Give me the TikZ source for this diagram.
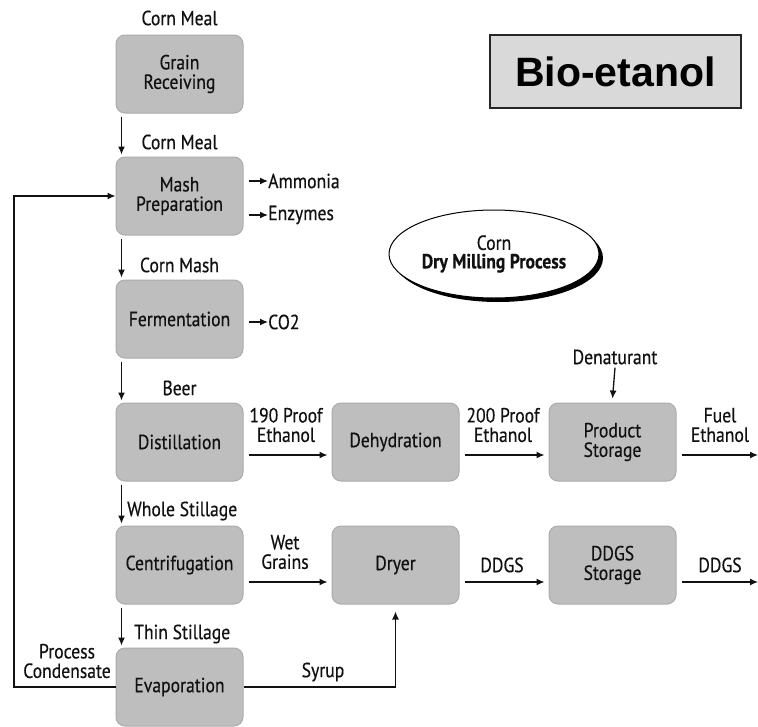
\documentclass[tikz,border=0pt]{standalone}
\usepackage{fontspec}
\setmainfont{PT Sans}[FakeStretch=0.86,FakeBold=0.4]
\newfontfamily\titlefont{Liberation Sans}
\usetikzlibrary{arrows.meta,shapes.geometric,shadows}
\definecolor{boxfill}{HTML}{BEBEBE}
\definecolor{boxline}{HTML}{ABABAB}
\definecolor{ink}{HTML}{111111}
\tikzset{
  stepbox/.style={draw=boxline, line width=1pt, fill=boxfill, rounded corners=9pt,
    minimum width=127pt, minimum height=78pt, align=center, inner sep=0pt,
    font=\fontsize{20.5}{19.5}\selectfont, text=ink},
  lbl/.style={font=\fontsize{20.5}{19.5}\selectfont, text=ink, inner sep=0pt, align=center},
  arr/.style={draw=ink, line width=1.3pt, -{Latex[length=8pt,width=7pt]}},
}
\begin{document}
\begin{tikzpicture}[x=1pt,y=-1pt]
\useasboundingbox[fill=white] (0,0) rectangle (758,726);

% title
\node[draw=black!85, line width=1.8pt, fill=black!15, minimum width=251pt, minimum height=73pt,
  font=\titlefont\bfseries\fontsize{41}{45}\selectfont, inner sep=0pt] (title) at (615.5,71.5) {Bio-etanol};

% ellipse
\node[ellipse, draw=black, line width=1pt, fill=white, minimum width=210pt, minimum height=88pt,
  drop shadow={shadow xshift=4pt, shadow yshift=-4pt, fill=black, opacity=1},
  lbl, inner sep=0pt] (ell) at (494,254) {Corn\\[-1pt] \bfseries Dry Milling Process};

% main column
\node[stepbox] (gr) at (179.5,74) {Grain\\Receiving};
\node[stepbox] (mp) at (179.5,196) {Mash\\Preparation};
\node[stepbox] (fe) at (179.5,319) {Fermentation};
\node[stepbox] (di) at (179.5,442) {Distillation};
\node[stepbox] (ce) at (179.5,565) {Centrifugation};
\node[stepbox] (ev) at (179.5,687) {Evaporation};
% second & third columns
\node[stepbox] (dh) at (395.5,442) {Dehydration};
\node[stepbox] (dr) at (395.5,565) {Dryer};
\node[stepbox] (ps) at (612.5,442) {Product\\Storage};
\node[stepbox] (ds) at (612.5,565) {DDGS\\Storage};

% labels main column
\node[lbl] (cm1) at (179.5,18) {Corn Meal};
\node[lbl] (cm2) at (179.5,142) {Corn Meal};
\node[lbl] (cmash) at (179.5,265) {Corn Mash};
\node[lbl] (beer) at (179.5,388) {Beer};
\node[lbl, anchor=west] (whole) at (127,511) {Whole Stillage};
\node[lbl, anchor=west] (thin) at (134,634) {Thin Stillage};

% vertical arrows
\draw[arr] ([xshift=6pt,yshift=-3pt]gr.south west) -- ([xshift=6pt,yshift=2pt]mp.north west);
\draw[arr] ([xshift=6pt,yshift=-3pt]mp.south west) -- ([xshift=6pt,yshift=2pt]fe.north west);
\draw[arr] ([xshift=6pt,yshift=-3pt]fe.south west) -- ([xshift=6pt,yshift=2pt]di.north west);
\draw[arr] ([xshift=6pt,yshift=-3pt]di.south west) -- ([xshift=6pt,yshift=2pt]ce.north west);
\draw[arr] ([xshift=6pt,yshift=-3pt]ce.south west) -- ([xshift=6pt,yshift=2pt]ev.north west);

% side outputs
\node[lbl, anchor=west] (amm) at (268,181) {Ammonia};
\node[lbl, anchor=west] (enz) at (268,215) {Enzymes};
\node[lbl, anchor=west] (co2) at (268,322) {CO2};
\draw[arr] ([xshift=5pt]mp.east |- amm.west) -- (amm.west);
\draw[arr] ([xshift=5pt]mp.east |- enz.west) -- (enz.west);
\draw[arr] ([xshift=5pt]fe.east |- co2.west) -- (co2.west);

% ethanol row
\draw[arr] ([xshift=5pt,yshift=-13pt]di.east) -- ([xshift=-4pt,yshift=-13pt]dh.west);
\node[lbl] (p190) at (286,425) {190 Proof\\Ethanol};
\draw[arr] ([xshift=5pt,yshift=-13pt]dh.east) -- ([xshift=-4pt,yshift=-13pt]ps.west);
\node[lbl] (p200) at (503,425) {200 Proof\\Ethanol};
\coordinate (fuelend) at (758,455);
\draw[arr] ([xshift=5pt,yshift=-13pt]ps.east) -- (fuelend);
\node[lbl] (fuel) at (720,425) {Fuel\\Ethanol};
\node[lbl] (den) at (615,357) {Denaturant};
\draw[arr] ([yshift=-3pt]den.south) -- ([yshift=4pt]ps.north);

% DDGS row
\draw[arr] ([xshift=5pt,yshift=-17pt]ce.east) -- ([xshift=-4pt,yshift=-17pt]dr.west);
\node[lbl] (wet) at (285,552) {Wet\\Grains};
\draw[arr] ([xshift=5pt,yshift=-17pt]dr.east) -- ([xshift=-4pt,yshift=-17pt]ds.west);
\node[lbl] (ddgs1) at (502,565) {DDGS};
\coordinate (ddgsend) at (758,582);
\draw[arr] ([xshift=5pt,yshift=-17pt]ds.east) -- (ddgsend);
\node[lbl] (ddgs2) at (720,565) {DDGS};

% syrup
\draw[arr] (ev.east) -| ([yshift=-7pt]dr.south);
\node[lbl] (syrup) at (323,672) {Syrup};

% process condensate loop
\coordinate (loopc) at (14,687);
\draw[arr] (ev.west) -- (loopc) |- (mp.west);
\node[lbl] (pc) at (67,661) {Process\\Condensate};
\end{tikzpicture}
\end{document}
